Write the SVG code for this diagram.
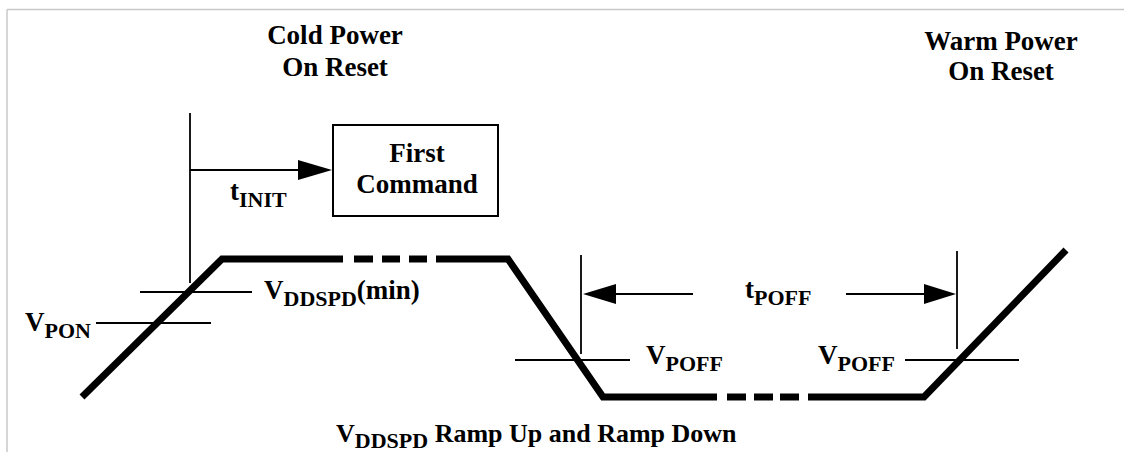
<svg xmlns="http://www.w3.org/2000/svg" width="1124" height="452" viewBox="0 0 1124 452">
<style>
text{font-family:'Liberation Serif','DejaVu Serif',serif;font-weight:700;fill:#000;font-size:27px}
.sub{font-size:22px}
.cap{font-size:26px}
.thin{stroke:#000;stroke-width:1.8;fill:none}
.thick{stroke:#000;stroke-width:7;fill:none;stroke-linejoin:miter}
.frame{stroke:#c8c8c8;stroke-width:1.5;fill:none}
.head{fill:#000}
</style>
<rect width="1124" height="452" fill="#fff"/>
<g id="frame">
<line class="frame" x1="7" y1="9.5" x2="1124" y2="9.5"/>
<line class="frame" x1="7" y1="9.5" x2="7" y2="452"/>
</g>
<g id="cold-label">
<text x="335" y="44" text-anchor="middle">Cold Power</text>
<text x="335" y="76" text-anchor="middle">On Reset</text>
</g>
<g id="warm-label">
<text x="1001" y="50" text-anchor="middle">Warm Power</text>
<text x="1001" y="80" text-anchor="middle">On Reset</text>
</g>
<g id="first-command">
<rect x="333" y="125" width="165" height="91" fill="#fff" stroke="#000" stroke-width="2"/>
<text x="417" y="162" text-anchor="middle">First</text>
<text x="417" y="193" text-anchor="middle">Command</text>
</g>
<g id="waveform">
<polyline class="thick" points="82,397 222,259 343,259"/>
<line class="thick" x1="354" y1="259" x2="373" y2="259"/>
<line class="thick" x1="382" y1="259" x2="400" y2="259"/>
<line class="thick" x1="409" y1="259" x2="427" y2="259"/>
<polyline class="thick" points="436,259 508,259 603,397 717,397"/>
<line class="thick" x1="727" y1="397" x2="746" y2="397"/>
<line class="thick" x1="754" y1="397" x2="773" y2="397"/>
<line class="thick" x1="780" y1="397" x2="799" y2="397"/>
<polyline class="thick" points="808,397 924,397 1066,250"/>
</g>
<g id="connectors">
<line class="thin" x1="190" y1="113" x2="190" y2="283"/>
<line class="thin" x1="190" y1="170" x2="300" y2="170"/>
<polygon class="head" points="298,160 332,170 298,180"/>
<line class="thin" x1="140" y1="292" x2="252" y2="292"/>
<line class="thin" x1="96" y1="323" x2="211" y2="323"/>
<line class="thin" x1="581" y1="255" x2="581" y2="354"/>
<line class="thin" x1="957" y1="251" x2="957" y2="349"/>
<line class="thin" x1="613" y1="294" x2="693" y2="294"/>
<polygon class="head" points="616,284 583,294 616,304"/>
<line class="thin" x1="846" y1="294" x2="927" y2="294"/>
<polygon class="head" points="924,284 956,294 924,304"/>
<line class="thin" x1="515" y1="360" x2="630" y2="360"/>
<line class="thin" x1="905" y1="360" x2="1019" y2="360"/>
</g>
<g id="labels">
<text x="230" y="200">t<tspan class="sub" dy="7">INIT</tspan></text>
<text x="264" y="299">V<tspan class="sub" dy="7">DDSPD</tspan><tspan dy="-7">(min)</tspan></text>
<text x="25" y="331">V<tspan class="sub" dy="7">PON</tspan></text>
<text x="745" y="298">t<tspan class="sub" dy="7">POFF</tspan></text>
<text x="646" y="364">V<tspan class="sub" dy="7">POFF</tspan></text>
<text x="818" y="364">V<tspan class="sub" dy="7">POFF</tspan></text>
<text class="cap" x="336" y="442">V<tspan class="sub" dy="6">DDSPD</tspan><tspan dy="-6"> Ramp Up and Ramp Down</tspan></text>
</g>
</svg>
